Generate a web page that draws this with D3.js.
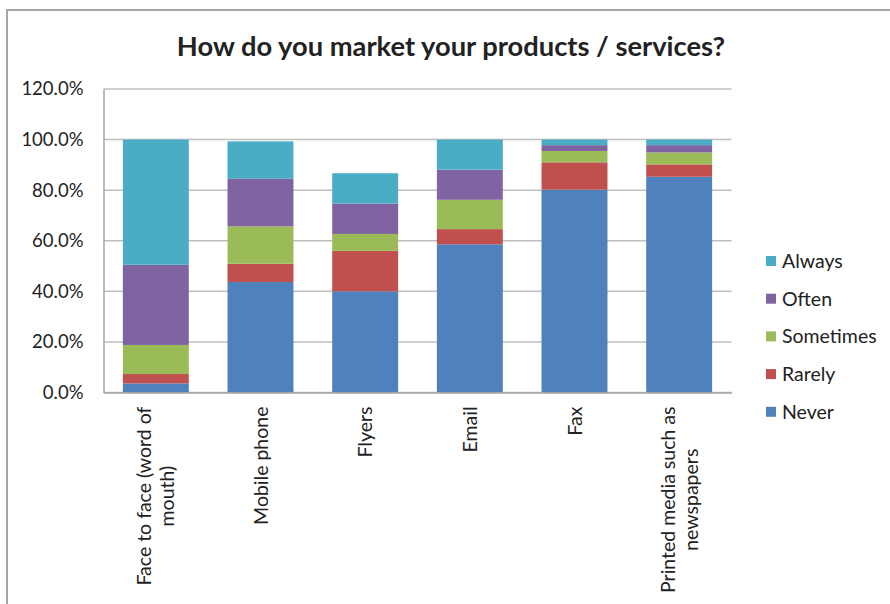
<!DOCTYPE html>
<html>
<head>
<meta charset="utf-8">
<script src="https://cdn.jsdelivr.net/npm/d3@7/dist/d3.min.js"></script>
<style>
  html, body { margin: 0; padding: 0; background: #fff; }
  svg { display: block; }
  text { font-family: Lato, "Open Sans", "Noto Sans", sans-serif; fill: #222; }
</style>
</head>
<body>
<svg id="chart" width="890" height="604"></svg>
<script>
// Survey answers per marketing channel (share of respondents, %)
const categories = [
  ["Face to face (word of", "mouth)"],
  ["Mobile phone"],
  ["Flyers"],
  ["Email"],
  ["Fax"],
  ["Printed media such as", "newspapers"]
];
const seriesNames = ["Never", "Rarely", "Sometimes", "Often", "Always"];
const never     = [3.6, 43.7, 40.0, 58.6, 80.2, 85.3];
const rarely    = [3.7,  7.2, 16.0,  6.0, 10.8,  4.9];
const sometimes = [11.5, 14.8, 6.7, 11.6,  4.5,  4.7];
const often     = [31.7, 18.8, 12.0, 11.9,  2.3,  2.9];
const always    = [49.5, 14.8, 12.0, 11.9,  2.2,  2.2];
const yTicks = [0, 20, 40, 60, 80, 100, 120];

const colors = {
  Never: "#4F81BD",
  Rarely: "#C0504D",
  Sometimes: "#9BBB59",
  Often: "#8064A2",
  Always: "#4BACC6"
};

const seriesValues = [never, rarely, sometimes, often, always];
const rows = categories.map((c, i) => {
  const r = { key: i };
  seriesNames.forEach((s, j) => { r[s] = seriesValues[j][i]; });
  return r;
});

const svg = d3.select("#chart");

// outer chart frame
svg.append("rect")
  .attr("x", 7).attr("y", 10)
  .attr("width", 900).attr("height", 620)
  .attr("fill", "none")
  .attr("stroke", "#a6a6a6")
  .attr("stroke-width", 2);

const plot = { left: 103.5, right: 731.5, top: 89, bottom: 392.5 };

const x = d3.scaleBand()
  .domain(d3.range(categories.length))
  .range([plot.left, plot.right])
  .paddingInner(0.37)
  .paddingOuter(0.185);

const y = d3.scaleLinear()
  .domain([0, 120])
  .range([plot.bottom, plot.top]);

// horizontal gridlines
svg.append("g")
  .selectAll("line")
  .data(yTicks)
  .join("line")
  .attr("x1", plot.left).attr("x2", plot.right)
  .attr("y1", d => y(d)).attr("y2", d => y(d))
  .attr("stroke", "#bfbfbf")
  .attr("stroke-width", 1.5);

// stacked bars
const stack = d3.stack().keys(seriesNames);
const layers = stack(rows);

svg.append("g")
  .selectAll("g")
  .data(layers)
  .join("g")
  .attr("fill", d => colors[d.key])
  .selectAll("rect")
  .data(d => d)
  .join("rect")
  .attr("x", d => x(d.data.key))
  .attr("width", x.bandwidth())
  .attr("y", d => y(d[1]))
  .attr("height", d => y(d[0]) - y(d[1]));

// y axis
const yAxis = svg.append("g")
  .attr("transform", `translate(${plot.left},0)`)
  .call(d3.axisLeft(y).tickValues(yTicks).tickSize(0).tickPadding(20)
    .tickFormat(d => d.toFixed(1) + "%"));
yAxis.select(".domain").attr("stroke", "#a6a6a6").attr("stroke-width", 1.5);
yAxis.selectAll("text")
  .style("font-size", "18.5px")
  .attr("fill", "#222");

// x axis
const xAxis = svg.append("g")
  .attr("transform", `translate(0,${plot.bottom})`)
  .call(d3.axisBottom(x).tickSize(0).tickFormat(""));
xAxis.select(".domain").attr("stroke", "#a6a6a6").attr("stroke-width", 1.5);

// rotated category labels, reading bottom-to-top; lines are centred on
// each other and the block ends just below the axis
const lineGap = 23;
const labels = svg.append("g")
  .selectAll("text")
  .data(categories)
  .join("text")
  .attr("transform", (d, i) => {
    const cx = x(i) + x.bandwidth() / 2;
    return `translate(${cx},${plot.bottom + 14}) rotate(-90)`;
  })
  .attr("text-anchor", "middle")
  .style("font-size", "19.5px");

labels.each(function (lines) {
  const t = d3.select(this);
  const n = lines.length;
  lines.forEach((line, k) => {
    t.append("tspan")
      .attr("x", 0)
      .attr("dy", k === 0 ? (7 - (n - 1) * lineGap / 2) + "px" : lineGap + "px")
      .text(line);
  });
  const w = this.getBBox().width;
  t.selectAll("tspan").attr("x", -w / 2);
});

// title
svg.append("text")
  .attr("x", 451)
  .attr("y", 56)
  .attr("text-anchor", "middle")
  .style("font-size", "27.3px")
  .style("font-weight", "bold")
  .text("How do you market your products / services?");

// legend (top entry is the top of the stack)
const legendItems = seriesNames.slice().reverse();
const legend = svg.append("g")
  .selectAll("g")
  .data(legendItems)
  .join("g")
  .attr("transform", (d, i) => `translate(766,${261 + i * 37.7})`);

legend.append("rect")
  .attr("x", 0).attr("y", -5)
  .attr("width", 10).attr("height", 10)
  .attr("fill", d => colors[d]);

legend.append("text")
  .attr("x", 16)
  .attr("y", 0)
  .attr("dy", "0.35em")
  .style("font-size", "19.5px")
  .text(d => d);
</script>
</body>
</html>
